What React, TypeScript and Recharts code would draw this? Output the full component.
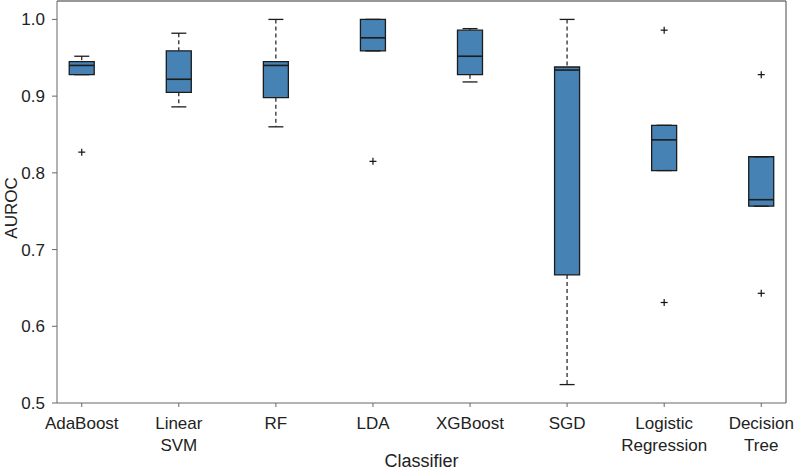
import { ComposedChart, Bar, Scatter, XAxis, YAxis, ReferenceLine, Label } from "recharts";

const classifiers = ["AdaBoost", "Linear\nSVM", "RF", "LDA", "XGBoost", "SGD", "Logistic\nRegression", "Decision\nTree"];
const positions = [1, 2, 3, 4, 5, 6, 7, 8];
const whiskerLow = [0.928, 0.886, 0.86, 0.959, 0.9185, 0.524, 0.803, 0.7565];
const q1 = [0.928, 0.905, 0.898, 0.959, 0.928, 0.667, 0.803, 0.7565];
const medians = [0.94, 0.922, 0.94, 0.976, 0.952, 0.934, 0.843, 0.765];
const q3 = [0.945, 0.959, 0.945, 1.0, 0.986, 0.938, 0.862, 0.821];
const whiskerHigh = [0.952, 0.982, 1.0, 1.0, 0.988, 1.0, 0.862, 0.821];
const outlierPos = [1, 4, 7, 7, 8, 8];
const outlierValues = [0.827, 0.815, 0.986, 0.631, 0.928, 0.643];
const yTicks = [0.5, 0.6, 0.7, 0.8, 0.9, 1.0];

const xDomain = [0.745, 8.255];
const yDomain = [0.5, 1.024];

const FONT = "'Liberation Sans', Arial, sans-serif";
const BOX_FILL = "#4682b4";
const EDGE = "#1c1c1c";
const AXIS = "#666";

const rows = positions.map((pos, i) => ({
  pos,
  lower: [whiskerLow[i], q1[i]],
  box: [q1[i], q3[i]],
  upper: [q3[i], whiskerHigh[i]],
}));
const medianRows = positions.map((pos, i) => ({ pos, value: medians[i] }));
const capRows = positions.flatMap((pos, i) => [
  { pos, value: whiskerLow[i] },
  { pos, value: whiskerHigh[i] },
]);
const outlierRows = outlierPos.map((pos, i) => ({ pos, value: outlierValues[i] }));

// dashed whisker drawn through the centre of the (invisible) range bar
const Whisker = (props: any) => {
  const { x, y, width, height } = props;
  if (x == null || !height) return null;
  const cx = x + width / 2;
  return <line x1={cx} x2={cx} y1={y} y2={y + height} stroke={EDGE} strokeWidth={1.2} strokeDasharray="4 3" />;
};

const HLine = (w: number, sw: number) => (props: any) => {
  const { cx, cy } = props;
  return <line x1={cx - w / 2} x2={cx + w / 2} y1={cy} y2={cy} stroke={EDGE} strokeWidth={sw} />;
};

const Plus = (props: any) => {
  const { cx, cy } = props;
  return (
    <g stroke="#111" strokeWidth={1.2}>
      <line x1={cx - 3.5} x2={cx + 3.5} y1={cy} y2={cy} />
      <line x1={cx} x2={cx} y1={cy - 3.5} y2={cy + 3.5} />
    </g>
  );
};

const ClassifierTick = (props: any) => {
  const { x, y, payload } = props;
  const lines = classifiers[payload.value - 1].split("\n");
  return (
    <text x={x} y={y} textAnchor="middle" fontSize={17} fill="#222" fontFamily={FONT}>
      {lines.map((l, i) => (
        <tspan key={i} x={x} dy={i === 0 ? 20 : 22}>
          {l}
        </tspan>
      ))}
    </text>
  );
};

export default function App() {
  return (
    <div style={{ position: "absolute", left: 0, top: 0, width: 796, height: 473, background: "#fff" }}>
      <ComposedChart width={796} height={473} data={rows} margin={{ top: 1, right: 10, bottom: 0, left: 0 }} barGap={-25}>
        <XAxis
          dataKey="pos"
          type="number"
          domain={xDomain}
          ticks={positions}
          interval={0}
          allowDataOverflow
          height={70}
          tickSize={4}
          tickMargin={2}
          tick={<ClassifierTick />}
          tickLine={{ stroke: AXIS }}
          axisLine={{ stroke: AXIS }}
        >
          <Label
            content={(p: any) => {
              const vb = p.viewBox;
              return (
                <text x={vb.x + vb.width / 2} y={467} textAnchor="middle" fontSize={18} fill="#222" fontFamily={FONT}>
                  Classifier
                </text>
              );
            }}
          />
        </XAxis>
        <YAxis
          type="number"
          domain={yDomain}
          ticks={yTicks}
          allowDataOverflow
          width={57}
          tickSize={5}
          tickMargin={7}
          tickFormatter={(v: number) => v.toFixed(1)}
          tick={{ fontSize: 17, fill: "#222", fontFamily: FONT }}
          tickLine={{ stroke: AXIS }}
          axisLine={{ stroke: AXIS }}
        >
          <Label
            content={(p: any) => {
              const vb = p.viewBox;
              const cy = vb.y + vb.height / 2 + 6;
              return (
                <text x={11} y={cy} transform={`rotate(-90 11 ${cy})`} textAnchor="middle" dominantBaseline="central" fontSize={17} fill="#222" fontFamily={FONT}>
                  AUROC
                </text>
              );
            }}
          />
        </YAxis>
        <ReferenceLine y={yDomain[1]} stroke="#333" strokeWidth={1.2} />
        <ReferenceLine x={xDomain[1]} stroke={AXIS} strokeWidth={1.2} />
        <Bar dataKey="lower" barSize={25} shape={<Whisker />} isAnimationActive={false} />
        <Bar dataKey="upper" barSize={25} shape={<Whisker />} isAnimationActive={false} />
        <Bar dataKey="box" barSize={25} fill={BOX_FILL} stroke={EDGE} strokeWidth={1.3} isAnimationActive={false} />
        <Scatter data={capRows} dataKey="value" shape={HLine(15, 1.3)} isAnimationActive={false} />
        <Scatter data={medianRows} dataKey="value" shape={HLine(25, 1.6)} isAnimationActive={false} />
        <Scatter data={outlierRows} dataKey="value" shape={Plus} isAnimationActive={false} />
      </ComposedChart>
    </div>
  );
}
